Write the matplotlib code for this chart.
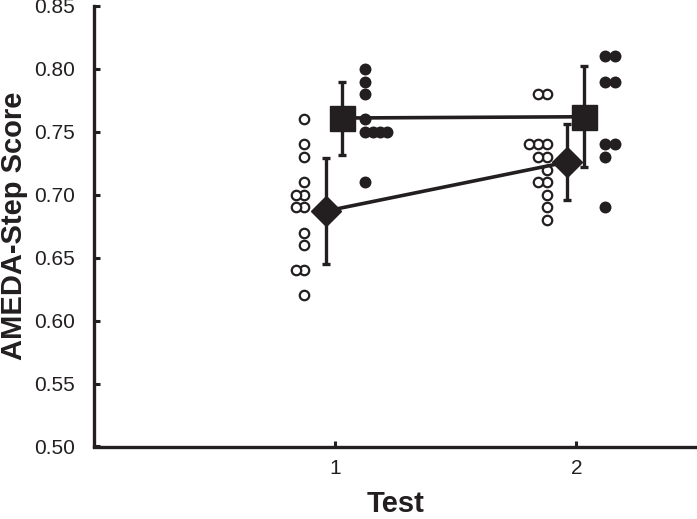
import matplotlib
matplotlib.use("Agg")
import matplotlib.pyplot as plt
from collections import Counter

plt.rcParams['font.family'] = ['Liberation Sans', 'DejaVu Sans']

tests = [1, 2]
tick_labels = ["1", "2"]

# individual scores (open = group A, filled = group B)
open_t1 = [0.76, 0.74, 0.73, 0.71, 0.70, 0.70, 0.69, 0.69, 0.67, 0.66, 0.64, 0.64, 0.62]
open_t2 = [0.78, 0.78, 0.74, 0.74, 0.74, 0.73, 0.73, 0.72, 0.71, 0.71, 0.70, 0.69, 0.68]
filled_t1 = [0.80, 0.79, 0.78, 0.76, 0.75, 0.75, 0.75, 0.75, 0.71]
filled_t2 = [0.81, 0.81, 0.79, 0.79, 0.74, 0.74, 0.73, 0.69]

# group means and error bars
open_mean = [0.687, 0.726]
open_err = [0.042, 0.030]
filled_mean = [0.761, 0.762]
filled_err = [0.029, 0.040]

C = '#231f20'

fig = plt.figure(figsize=(6.97, 5.19), dpi=100)
ax = fig.add_axes([94/697, 1 - 446.5/519, 1 - 94/697, (446.5 - 6)/519])


def swarm_x(vals, center, base, step):
    seen = Counter()
    xs = []
    for v in vals:
        k = seen[v]
        seen[v] += 1
        xs.append(center + base + k * step)
    return xs

# open circles
for t, vals, base, step in [(1, open_t1, -0.128, -0.036), (2, open_t2, -0.123, -0.036)]:
    ax.plot(swarm_x(vals, t, base, step), vals, 'o', ms=6.8, mfc='white', mec=C, mew=1.6,
            linestyle='none', zorder=3)

# filled circles
for t, vals, base, step in [(1, filled_t1, 0.125, 0.030), (2, filled_t2, 0.118, 0.040)]:
    ax.plot(swarm_x(vals, t, base, step), vals, 'o', ms=8.6, mfc=C, mec=C, mew=0,
            linestyle='none', zorder=3)

# means
ox = [t - 0.04 for t in tests]
fx = [t + 0.03 for t in tests]
ax.errorbar(ox, open_mean, yerr=open_err, fmt='none', ecolor=C, elinewidth=2.4,
            capsize=3, capthick=2.4, zorder=4)
ax.plot(ox, open_mean, '-', color=C, lw=2.6, zorder=4)
ax.plot(ox, open_mean, 'D', color=C, ms=15.5, mec=C, linestyle='none', zorder=5)

ax.errorbar(fx, filled_mean, yerr=filled_err, fmt='none', ecolor=C, elinewidth=2.4,
            capsize=3, capthick=2.4, zorder=4)
ax.plot(fx, filled_mean, '-', color=C, lw=2.6, zorder=4)
ax.plot(fx, filled_mean, 's', color=C, ms=18, mec=C, linestyle='none', zorder=5)

ax.set_xlim(0, 2.5)
ax.set_ylim(0.5, 0.85)
ax.set_xticks(tests)
ax.set_xticklabels(tick_labels)
yt = [0.50, 0.55, 0.60, 0.65, 0.70, 0.75, 0.80, 0.85]
ax.set_yticks(yt)
ax.set_yticklabels([f"{v:.2f}" for v in yt])

for s in ['top', 'right']:
    ax.spines[s].set_visible(False)
for s in ['left', 'bottom']:
    ax.spines[s].set_linewidth(2.4)
    ax.spines[s].set_color(C)
    ax.spines[s].set_capstyle('projecting')

ax.tick_params(direction='in', length=4, width=2.2, color=C, labelsize=15,
               labelcolor=C)
ax.tick_params(axis='y', pad=14)
ax.tick_params(axis='x', pad=9)

ax.set_ylabel("AMEDA-Step Score", fontsize=21, fontweight='bold', color=C, labelpad=4)
ax.set_xlabel("Test", fontsize=21, fontweight='bold', color=C, labelpad=9)

fig.savefig("out.png", dpi=100)
